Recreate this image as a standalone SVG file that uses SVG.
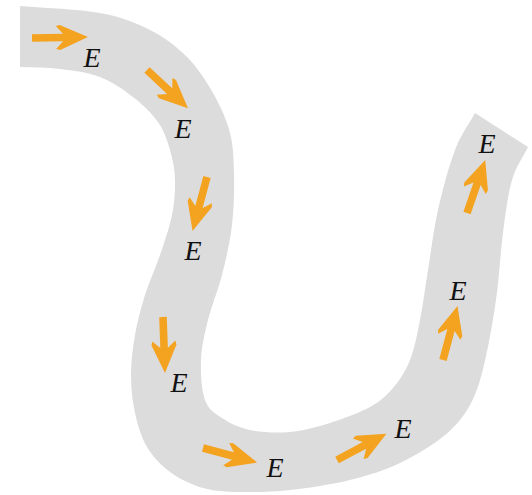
<svg xmlns="http://www.w3.org/2000/svg" xmlns:xlink="http://www.w3.org/1999/xlink" width="532" height="495" viewBox="0 0 532 495">
<style>
.band{fill:#dcdcdc;stroke:none}
.arrow{fill:#f4a321}
.lbl{font-family:"Liberation Serif","Times New Roman",serif;font-style:italic;font-size:28px;fill:#111;text-anchor:middle}
</style>
<defs>
<path id="arr" d="M0,-3.8 L31,-3.8 L24,-11.5 L28,-12.5 L56,0 L28,12.5 L24,11.5 L31,3.8 L0,3.8 Z"/>
</defs>
<rect width="532" height="495" fill="#ffffff"/>
<path id="wire" class="band" d="M20,6 C46.7,8.3 78.3,9 100,13 C121.7,17 135.5,22.7 150,30 C164.5,37.3 176.5,46.5 187,57 C197.5,67.5 205.8,80.3 213,93 C220.2,105.7 226.5,119.3 230,133 C233.5,146.7 233.7,159.7 234,175 C234.3,190.3 234,208.3 232,225 C230,241.7 226,259.2 222,275 C218,290.8 211.5,305.8 208,320 C204.5,334.2 201.5,346.7 201,360 C200.5,373.3 201.5,390.3 205,400 C208.5,409.7 214.5,413 222,418 C229.5,423 238.7,427.7 250,430 C261.7,432.5 276.7,433.2 290,432 C303.3,430.8 316.7,427.2 330,423 C343.3,418.8 359.5,412.8 370,407 C380.5,401.2 386.3,395.8 393,388 C399.7,380.2 405.5,371.3 410,360 C414.5,348.7 417,335 420,320 C423,305 425,288.3 428,270 C431,251.7 433.5,230 438,210 C442.5,190 448.8,166.2 455,150 C461.2,133.8 468.3,125.3 475,113 L528,147 C522.7,158 516.2,165.7 512,180 C507.8,194.3 505.7,213 503,233 C500.3,253 499.2,278 496,300 C492.8,322 488.3,347.5 484,365 C479.7,382.5 476.5,393.3 470,405 C463.5,416.7 456.7,425.3 445,435 C433.3,444.7 415.8,455.5 400,463 C384.2,470.5 368.3,475.5 350,480 C331.7,484.5 308.3,488 290,490 C271.7,492 254.5,492.3 240,492 C225.5,491.7 214.7,491.3 203,488 C191.3,484.7 179.3,478.8 170,472 C160.7,465.2 152.8,456.8 147,447 C141.2,437.2 137.7,425 135,413 C132.3,401 131,388 131,375 C131,362 132.7,348.3 135,335 C137.3,321.7 140.8,308.3 145,295 C149.2,281.7 155.5,268.3 160,255 C164.5,241.7 169.5,227.5 172,215 C174.5,202.5 175.3,190.8 175,180 C174.7,169.2 172.8,159.7 170,150 C167.2,140.3 164.2,130.8 158,122 C151.8,113.2 142.7,104.5 133,97 C123.3,89.5 112.2,81.7 100,77 C87.8,72.3 73.3,70.7 60,69 C46.7,67.3 33.3,67.7 20,67 Z"/>
<g id="arrows" class="arrow">
<use xlink:href="#arr" href="#arr" transform="translate(32,38) rotate(-1)"/>
<use xlink:href="#arr" href="#arr" transform="translate(147,70) rotate(43)"/>
<use xlink:href="#arr" href="#arr" transform="translate(207,177) rotate(105)"/>
<use xlink:href="#arr" href="#arr" transform="translate(163,317) rotate(88)"/>
<use xlink:href="#arr" href="#arr" transform="translate(203,448) rotate(15)"/>
<use xlink:href="#arr" href="#arr" transform="translate(337,460) rotate(-28)"/>
<use xlink:href="#arr" href="#arr" transform="translate(443,360) rotate(-75)"/>
<use xlink:href="#arr" href="#arr" transform="translate(467,213) rotate(-71)"/>
</g>
<g id="labels">
<text class="lbl" x="92" y="67">E</text>
<text class="lbl" x="183" y="138">E</text>
<text class="lbl" x="193" y="260">E</text>
<text class="lbl" x="179" y="392">E</text>
<text class="lbl" x="275" y="477">E</text>
<text class="lbl" x="403" y="438">E</text>
<text class="lbl" x="458" y="300">E</text>
<text class="lbl" x="487" y="153">E</text>
</g>
</svg>
